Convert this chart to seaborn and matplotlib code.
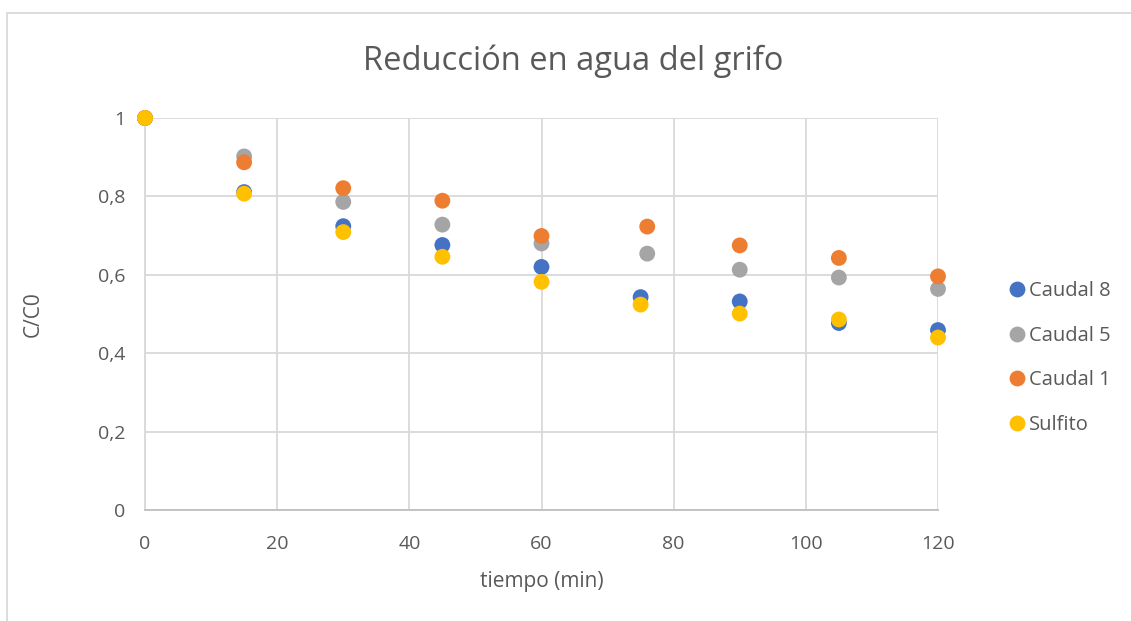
import matplotlib
matplotlib.use("Agg")
import matplotlib.pyplot as plt
import seaborn as sns
import pandas as pd
from matplotlib.patches import Rectangle

# Measured concentration ratio C/C0 over time for each treatment
tiempo = [0, 15, 30, 45, 60, 75, 90, 105, 120]
tiempo_c1 = [0, 15, 30, 45, 60, 76, 90, 105, 120]
tiempo_c5 = [0, 15, 30, 45, 60, 76, 90, 105, 120]
caudal_8 = [1.0, 0.811, 0.724, 0.676, 0.620, 0.543, 0.532, 0.477, 0.459]
caudal_5 = [1.0, 0.902, 0.786, 0.728, 0.680, 0.654, 0.613, 0.593, 0.564]
caudal_1 = [1.0, 0.887, 0.821, 0.789, 0.699, 0.723, 0.675, 0.643, 0.596]
sulfito = [1.0, 0.807, 0.709, 0.646, 0.582, 0.524, 0.501, 0.486, 0.440]

series = ["Caudal 8", "Caudal 5", "Caudal 1", "Sulfito"]
colores = ["#4472C4", "#A5A5A5", "#ED7D31", "#FFC000"]
x_ticks = [0, 20, 40, 60, 80, 100, 120]
y_ticks = [0, 0.2, 0.4, 0.6, 0.8, 1.0]
y_labels = ["0", "0,2", "0,4", "0,6", "0,8", "1"]

df = pd.concat([
    pd.DataFrame({"t": tiempo, "c": caudal_8, "serie": "Caudal 8"}),
    pd.DataFrame({"t": tiempo_c5, "c": caudal_5, "serie": "Caudal 5"}),
    pd.DataFrame({"t": tiempo_c1, "c": caudal_1, "serie": "Caudal 1"}),
    pd.DataFrame({"t": tiempo, "c": sulfito, "serie": "Sulfito"}),
], ignore_index=True)

sns.set_theme(style="white")
plt.rcParams["font.family"] = ["Open Sans", "DejaVu Sans"]

fig = plt.figure(figsize=(11.31, 6.21), dpi=100)
ax = fig.add_axes([145 / 1131, 1 - 510 / 621, (938 - 145) / 1131, (510 - 118) / 621])

sns.scatterplot(data=df, x="t", y="c", hue="serie", hue_order=series,
                palette=colores, s=130, linewidth=0, ax=ax, zorder=3,
                clip_on=False)

ax.set_xlim(0, 120)
ax.set_ylim(0, 1)
ax.set_xticks(x_ticks)
ax.set_yticks(y_ticks)
ax.set_yticklabels(y_labels)
ax.grid(True, color="#D9D9D9", linewidth=1.3)
ax.set_axisbelow(True)
for side in ["top", "right"]:
    ax.spines[side].set_visible(False)
ax.spines["left"].set_color("#D9D9D9")
ax.spines["left"].set_linewidth(1.3)
ax.spines["bottom"].set_color("#BFBFBF")
ax.spines["bottom"].set_linewidth(1.3)
ax.tick_params(axis="both", length=0, labelsize=14, colors="#595959")
ax.tick_params(axis="x", pad=18)
ax.tick_params(axis="y", pad=14)

ax.set_xlabel("tiempo (min)", fontsize=15, color="#595959")
ax.set_ylabel("C/C0", fontsize=15, color="#595959")
ax.xaxis.set_label_coords(0.5, -0.156)
ax.yaxis.set_label_coords(-0.128, 0.5)
fig.text(573 / 1131, 1 - 61 / 621, "Reducción en agua del grifo", ha="center",
         va="center", fontsize=23.5, color="#595959")

handles, labels = ax.get_legend_handles_labels()
leg = ax.legend(handles, labels, loc="center left", bbox_to_anchor=(1.064, 0.388),
                frameon=False, fontsize=14.5, labelspacing=1.22,
                handletextpad=0.1, handlelength=1.0, markerscale=1.0)
for txt in leg.get_texts():
    txt.set_color("#595959")

# chart-area border
fig.patches.append(Rectangle((7 / 1131, -0.01), 1.0, 1 - 13 / 621 + 0.01,
                             transform=fig.transFigure, fill=False,
                             edgecolor="#D9D9D9", linewidth=1.3))

fig.savefig("out.png", dpi=100)
